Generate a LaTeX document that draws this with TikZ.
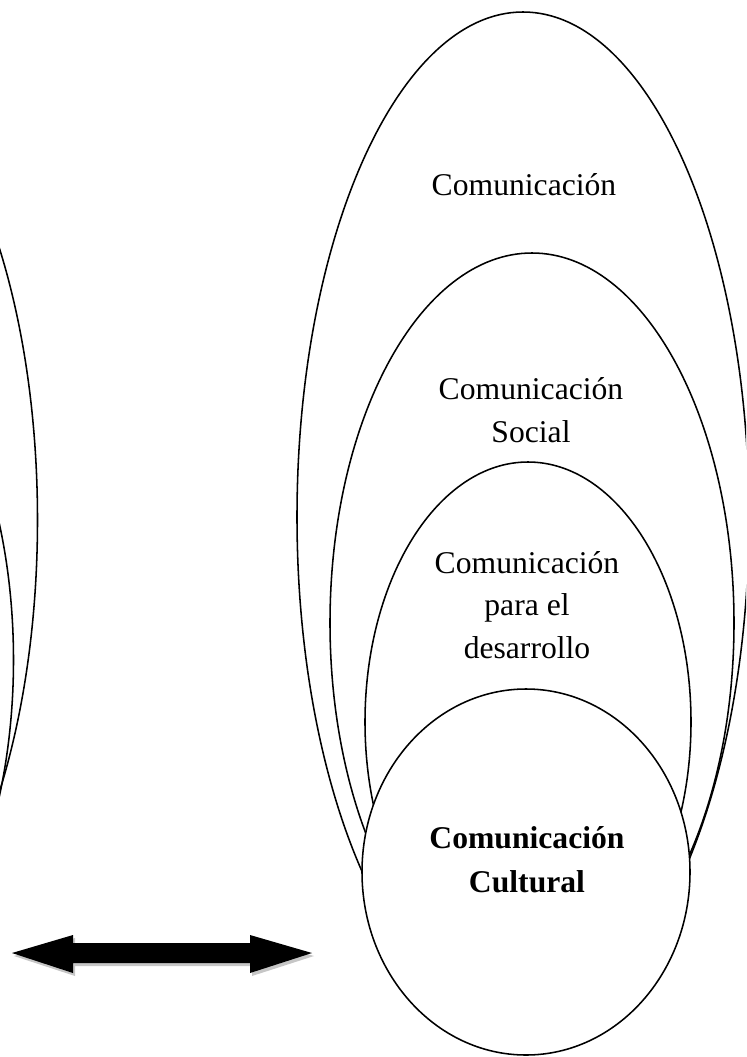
\documentclass[tikz,border=0pt]{standalone}
\usepackage{fontspec}
\setmainfont{Liberation Serif}
\usetikzlibrary{positioning}
\tikzset{
  ring/.style={draw=black,line width=1.1pt,fill=white},
  ringtext/.style={font=\fontsize{22.5}{30.2}\selectfont,align=center,inner sep=0pt,anchor=base}
}
\begin{document}
\begin{tikzpicture}[x=0.025cm,y=-0.025cm]
\useasboundingbox (0,0) rectangle (746,1057);
\begin{scope}
  \clip (0,0) rectangle (746,1057);
  % rings cut off at the left edge
  \draw[ring,fill=none] (-169.5,520) ellipse [x radius=207,y radius=470];
  \draw[ring,fill=none] (-188.5,660) ellipse [x radius=202,y radius=370];
  % nested rings
  \draw[ring] (523,517) ellipse [x radius=226,y radius=505];
  \draw[ring] (532,623) ellipse [x radius=202,y radius=370];
  \draw[ring] (528,722) ellipse [x radius=163,y radius=260];
  \draw[ring] (526,872) ellipse [x radius=164,y radius=183];
\end{scope}

% base anchor sits on the last line
\node[ringtext] (comm) at (524,195) {Comunicación};
\node[ringtext] (social) at (531,442) {Comunicación\\Social};
\node[ringtext] (devel) at (527,658) {Comunicación\\para el\\desarrollo};
\node[ringtext,font=\bfseries\fontsize{22.5}{31}\selectfont] (cult) at (527,892) {Comunicación\\Cultural};

% double arrow with shadow
\fill[gray!45,shift={(2,3)}] (12,953) -- (73,935) -- (73,943) -- (250,943) -- (250,935) -- (312,953)
  -- (250,973) -- (250,963) -- (73,963) -- (73,973) -- cycle;
\fill[black] (12,953) -- (73,935) -- (73,943) -- (250,943) -- (250,935) -- (312,953)
  -- (250,973) -- (250,963) -- (73,963) -- (73,973) -- cycle;
\end{tikzpicture}
\end{document}
